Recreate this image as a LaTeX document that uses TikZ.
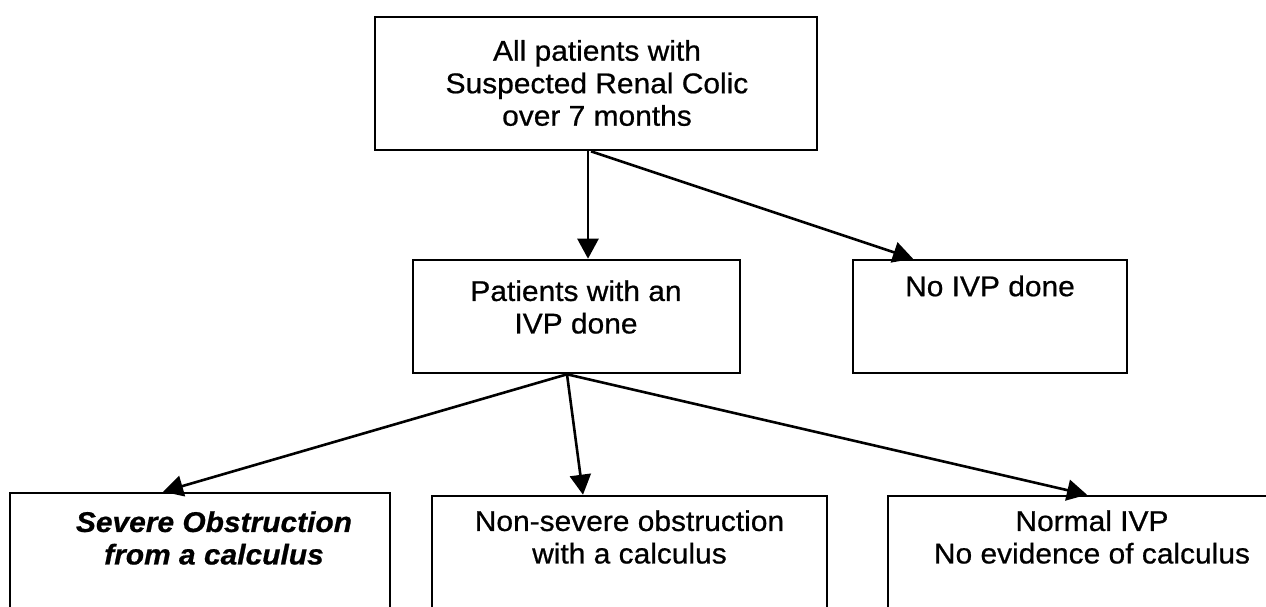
\documentclass[tikz,border=0pt]{standalone}
\usepackage{fontspec}
\setmainfont{Liberation Sans}[FakeStretch=1.05, FakeBold=0.7,
  BoldFeatures={FakeStretch=0.985, FakeBold=0}]
\usetikzlibrary{arrows.meta}
\begin{document}
\begin{tikzpicture}[x=1pt,y=-1pt,
  box/.style={draw, line width=2.6pt, rectangle, inner sep=0pt},
  txt/.style={align=center, inner sep=0pt,
    font=\fontsize{28.5}{32.5}\selectfont},
  arr/.style={line width=2.6pt, -{Triangle[length=20pt,width=21pt]}}]
\useasboundingbox (0,0) rectangle (1266,606);
\clip (0,0) rectangle (1266,606);

% boxes
\node[box, minimum width=442pt, minimum height=133pt] (top) at (596,83.5) {};
\node[box, minimum width=327pt, minimum height=113pt] (mid) at (576.5,316.5) {};
\node[box, minimum width=274pt, minimum height=113pt] (noivp) at (990,316.5) {};
\node[box, minimum width=380pt, minimum height=150pt] (sev) at (200,568) {};
\node[box, minimum width=395pt, minimum height=150pt] (non) at (629.5,571) {};
\node[box, minimum width=412pt, minimum height=150pt] (norm) at (1094,571) {};

% labels
\node[txt] (ttop) at (597,83) {All patients with\\Suspected Renal Colic\\over 7 months};
\node[txt] (tmid) at (576,307) {Patients with an\\IVP done};
\node[txt] (tnoivp) at (990,286) {No IVP done};
\node[txt, font=\fontsize{28.5}{32.5}\selectfont\bfseries\itshape] (tsev) at (214,538) {Severe Obstruction\\from a calculus};
\node[txt] (tnon) at (629.5,537) {Non-severe obstruction\\with a calculus};
\node[txt] (tnorm) at (1092,537) {Normal IVP\\No evidence of calculus};

% connector end points along the box edges
\coordinate (a1) at (588,0);
\coordinate (a2) at (591,0);
\coordinate (a3) at (913,0);
\coordinate (b1) at (567,0);
\coordinate (b2) at (163,0);
\coordinate (b3) at (583,0);
\coordinate (b4) at (1087,0);

% connectors
\draw[arr] (top.south -| a1) -- (mid.north -| a1);
\draw[arr] (top.south -| a2) -- (noivp.north -| a3);
\draw[arr] (mid.south -| b1) -- (sev.north -| b2);
\draw[arr] (mid.south -| b1) -- (non.north -| b3);
\draw[arr] (mid.south -| b1) -- (norm.north -| b4);
\end{tikzpicture}
\end{document}
